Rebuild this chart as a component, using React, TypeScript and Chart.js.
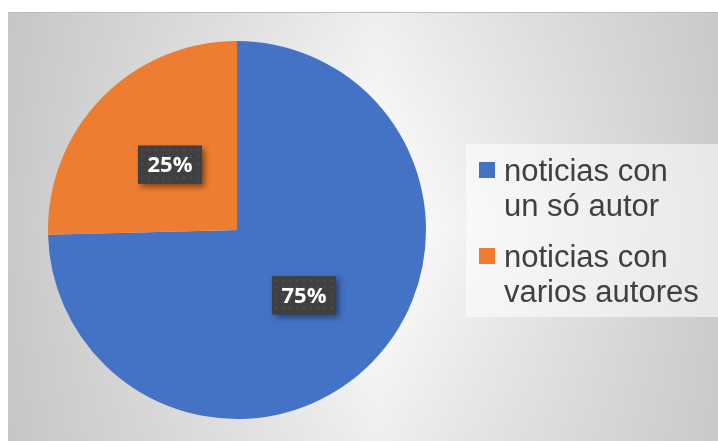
import React, { useEffect, useRef } from "react";
import { Chart, registerables } from "chart.js";

Chart.register(...registerables);

const categories = ["noticias con un só autor", "noticias con varios autores"];
const legendLines = [
  ["noticias con", "un só autor"],
  ["noticias con", "varios autores"],
];
const values = [74.6, 25.4];
const valueLabels = ["75%", "25%"];
const colors = ["#4472C4", "#ED7D31"];

const W = 710;
const H = 429;

const bgPlugin = {
  id: "bgPlugin",
  beforeDraw(chart: any) {
    const { ctx } = chart;
    ctx.save();
    const lg = ctx.createLinearGradient(0, 0, W, 0);
    lg.addColorStop(0, "#c9c9c9");
    lg.addColorStop(0.52, "#ffffff");
    lg.addColorStop(1, "#cdcdcd");
    ctx.fillStyle = lg;
    ctx.fillRect(0, 0, W, H);
    const vg = ctx.createLinearGradient(0, 0, 0, H);
    vg.addColorStop(0, "rgba(190,190,190,0.25)");
    vg.addColorStop(0.5, "rgba(190,190,190,0)");
    vg.addColorStop(1, "rgba(190,190,190,0.25)");
    ctx.fillStyle = vg;
    ctx.fillRect(0, 0, W, H);
    ctx.fillStyle = "#bdbdbd";
    ctx.fillRect(0, 0, W, 1);
    ctx.restore();
  },
};

let patternCanvas: HTMLCanvasElement | null = null;
function getPattern(ctx: CanvasRenderingContext2D) {
  if (!patternCanvas) {
    patternCanvas = document.createElement("canvas");
    patternCanvas.width = 7;
    patternCanvas.height = 7;
    const p = patternCanvas.getContext("2d")!;
    p.fillStyle = "#404040";
    p.fillRect(0, 0, 7, 7);
    p.fillStyle = "#4e4e4e";
    p.fillRect(3, 3, 2, 2);
  }
  return ctx.createPattern(patternCanvas, "repeat");
}

const labelPlugin = {
  id: "labelPlugin",
  afterDatasetsDraw(chart: any) {
    const { ctx } = chart;
    const meta = chart.getDatasetMeta(0);
    ctx.save();
    ctx.font = "bold 22px 'Open Sans'";
    ctx.textAlign = "center";
    ctx.textBaseline = "middle";
    meta.data.forEach((arc: any, i: number) => {
      const { x, y, startAngle, endAngle, outerRadius } = arc.getProps(
        ["x", "y", "startAngle", "endAngle", "outerRadius"],
        true
      );
      const mid = (startAngle + endAngle) / 2;
      const d = outerRadius * 0.495;
      const cx = x + Math.cos(mid) * d;
      const cy = y + Math.sin(mid) * d;
      const bw = 64;
      const bh = 38;
      ctx.save();
      ctx.shadowColor = "rgba(0,0,0,0.45)";
      ctx.shadowBlur = 6;
      ctx.shadowOffsetX = 3;
      ctx.shadowOffsetY = 3;
      ctx.fillStyle = "#404040";
      ctx.fillRect(cx - bw / 2, cy - bh / 2, bw, bh);
      ctx.restore();
      ctx.save();
      ctx.translate(cx - bw / 2, cy - bh / 2);
      ctx.fillStyle = getPattern(ctx) as any;
      ctx.fillRect(0, 0, bw, bh);
      ctx.restore();
      ctx.fillStyle = "#ffffff";
      ctx.fillText(valueLabels[i], cx, cy + 1);
    });
    ctx.restore();
  },
};

const legendPlugin = {
  id: "legendPlugin",
  afterDraw(chart: any) {
    const { ctx } = chart;
    ctx.save();
    ctx.fillStyle = "rgba(255,255,255,0.55)";
    ctx.fillRect(458, 132, 252, 173);
    ctx.font = "31px 'Liberation Sans', Arial";
    ctx.textAlign = "left";
    ctx.textBaseline = "alphabetic";
    legendLines.forEach((lines, i) => {
      const top = 150 + i * 86;
      ctx.fillStyle = colors[i];
      ctx.fillRect(471, top, 16, 16);
      ctx.fillStyle = "#404040";
      lines.forEach((line, j) => {
        ctx.fillText(line, 496, top + 18.5 + j * 35);
      });
    });
    ctx.restore();
  },
};

export default function App() {
  const ref = useRef<HTMLCanvasElement | null>(null);
  useEffect(() => {
    if (!ref.current) return;
    const chart = new Chart(ref.current, {
      type: "pie",
      data: {
        labels: categories,
        datasets: [
          {
            data: values,
            backgroundColor: colors,
            borderWidth: 0,
          },
        ],
      },
      options: {
        animation: false,
        responsive: false,
        devicePixelRatio: 1,
        layout: { padding: { left: 40, right: 292, top: 29, bottom: 22 } },
        plugins: {
          legend: { display: false },
          tooltip: { enabled: false },
          title: { display: false },
        },
      },
      plugins: [bgPlugin, labelPlugin, legendPlugin],
    });
    return () => chart.destroy();
  }, []);
  return (
    <div style={{ position: "fixed", left: 8, top: 12, width: W, height: H }}>
      <canvas ref={ref} width={W} height={H} style={{ display: "block" }} />
    </div>
  );
}
